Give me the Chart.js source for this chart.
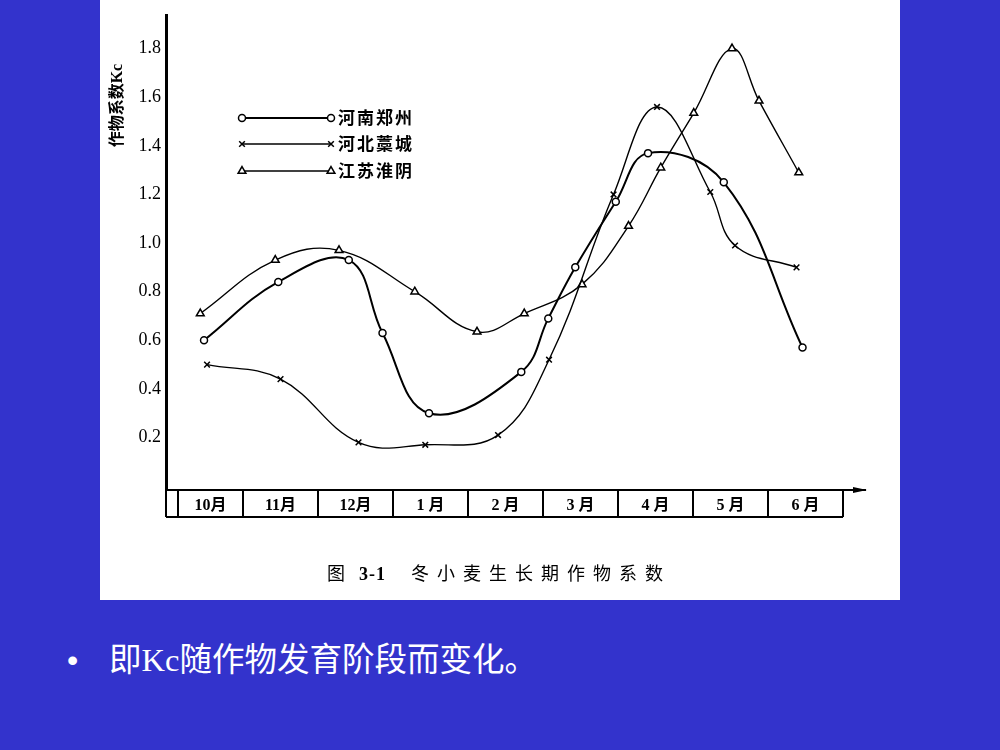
<!DOCTYPE html>
<html>
<head>
<meta charset="utf-8">
<script src="https://cdn.jsdelivr.net/npm/chart.js@4.4.1/dist/chart.umd.min.js"></script>
<style>
  body { margin: 0; width: 1000px; height: 750px; background: #3333cc; position: relative; overflow: hidden; }
  #panel { position: absolute; left: 100px; top: 0; width: 800px; height: 600px; background: #fff; }
  #cv { position: absolute; left: 0; top: 0; }
  .cap { position: absolute; top: 562px; line-height: 24px; white-space: nowrap; color: #000;
         font-size: 18px; font-family: "Liberation Serif", "Noto Sans CJK SC"; }
  #bullet { position: absolute; left: 67px; top: 640px; color: #fff; font: 32px/40px "Liberation Sans"; }
  #note { position: absolute; left: 109px; top: 640px; color: #fff; white-space: nowrap;
          font-size: 32.5px; line-height: 40px; font-family: "Liberation Serif", "Noto Sans CJK SC"; }
</style>
</head>
<body>
<div id="panel">
  <canvas id="cv" width="800" height="600"></canvas>
  <div class="cap" style="left:227px">图</div>
  <div class="cap" style="left:259px; font-weight:bold; letter-spacing:1px">3-1</div>
  <div class="cap" style="left:311px; letter-spacing:8px">冬小麦生长期作物系数</div>
</div>
<div id="bullet">•</div>
<div id="note">即Kc随作物发育阶段而变化。</div>
<script>
// 月份 (x 单位: 自10月初起的月数)
const months = ['10月', '11月', '12月', '1 月', '2 月', '3 月', '4 月', '5 月', '6 月'];
const monthEdges = [0.13, 1, 2, 3, 4, 5, 6, 7, 8, 9];
const yTicks = [0.2, 0.4, 0.6, 0.8, 1.0, 1.2, 1.4, 1.6, 1.8];
const seriesNames = ['河南郑州', '河北藁城', '江苏淮阴'];

const henanX = [0.48, 1.47, 2.41, 2.86, 3.48, 4.71, 5.07, 5.43, 5.97, 6.40, 7.41, 8.46];
const henanY = [0.60, 0.84, 0.93, 0.63, 0.30, 0.47, 0.69, 0.90, 1.17, 1.37, 1.25, 0.57];
const hebeiX = [0.52, 1.50, 2.54, 3.43, 4.40, 5.08, 5.94, 6.52, 7.23, 7.56, 8.38];
const hebeiY = [0.50, 0.44, 0.18, 0.17, 0.21, 0.52, 1.20, 1.56, 1.21, 0.99, 0.90];
const jiangsuX = [0.43, 1.43, 2.28, 3.29, 4.12, 4.75, 5.52, 6.14, 6.57, 7.01, 7.52, 7.88, 8.41];
const jiangsuY = [0.71, 0.93, 0.97, 0.80, 0.635, 0.71, 0.83, 1.07, 1.31, 1.535, 1.80, 1.585, 1.29];

const xMin = -0.027, xMax = 9.293;
const monthCenters = months.map((m, i) => (monthEdges[i] + monthEdges[i + 1]) / 2);

function pts(xs, ys) { return xs.map((x, i) => ({ x: x, y: ys[i] })); }

function makeSet(name, xs, ys, style, radius, width) {
  return {
    label: name,
    data: pts(xs, ys),
    borderColor: '#000',
    borderWidth: width,
    backgroundColor: '#fff',
    pointStyle: style,
    pointRadius: radius,
    pointBorderWidth: 1.5,
    pointBackgroundColor: '#fff',
    pointBorderColor: '#000',
    tension: 0.4
  };
}

// 图内图例和表格底线
const deco = {
  id: 'deco',
  afterDraw(chart) {
    const ctx = chart.ctx;
    const a = chart.chartArea;
    const xs = chart.scales.x;
    const xr = xs.getPixelForValue(monthEdges[monthEdges.length - 1]);
    ctx.save();
    ctx.strokeStyle = '#000';
    ctx.fillStyle = '#000';
    ctx.lineWidth = 2;
    ctx.beginPath();
    ctx.moveTo(a.left, a.bottom + 27);
    ctx.lineTo(xr, a.bottom + 27);
    ctx.stroke();
    ctx.beginPath();
    ctx.moveTo(a.right + 2, a.bottom);
    ctx.lineTo(a.right - 12, a.bottom - 3);
    ctx.lineTo(a.right - 12, a.bottom + 3);
    ctx.closePath();
    ctx.fill();

    const rows = [118, 144, 171];
    chart.data.datasets.forEach((ds, i) => {
      const y = rows[i];
      ctx.strokeStyle = '#000';
      ctx.lineWidth = ds.borderWidth;
      ctx.beginPath();
      ctx.moveTo(142, y);
      ctx.lineTo(231, y);
      ctx.stroke();
      ctx.fillStyle = '#fff';
      ctx.lineWidth = 1.5;
      [142, 231].forEach(px => {
        Chart.helpers.drawPoint(ctx, { pointStyle: ds.pointStyle, radius: ds.pointRadius, rotation: 0, borderWidth: 1.5 }, px, y);
      });
      ctx.fillStyle = '#000';
      ctx.font = 'bold 17px "Noto Sans CJK SC"';
      ctx.letterSpacing = '2px';
      ctx.textBaseline = 'middle';
      ctx.textAlign = 'left';
      ctx.fillText(ds.label, 238, y);
    });
    ctx.restore();
  }
};

new Chart(document.getElementById('cv'), {
  type: 'line',
  data: {
    datasets: [
      makeSet(seriesNames[0], henanX, henanY, 'circle', 3.5, 2),
      makeSet(seriesNames[1], hebeiX, hebeiY, 'crossRot', 4, 1.4),
      makeSet(seriesNames[2], jiangsuX, jiangsuY, 'triangle', 4.5, 1.4)
    ]
  },
  options: {
    responsive: false,
    animation: false,
    devicePixelRatio: 1,
    layout: { padding: { left: 0, right: 35, top: 12, bottom: 80 } },
    plugins: { legend: { display: false }, tooltip: { enabled: false } },
    scales: {
      x: {
        type: 'linear',
        min: xMin,
        max: xMax,
        afterFit(scale) { scale.height = 30; },
        afterBuildTicks(scale) {
          const t = [xMin].concat(monthEdges, monthCenters).sort((p, q) => p - q);
          scale.ticks = t.map(v => ({ value: v }));
        },
        border: { display: true, color: '#000', width: 2 },
        grid: {
          drawOnChartArea: false,
          tickLength: 27,
          lineWidth: 2,
          color: ctx => (ctx.tick && monthCenters.includes(ctx.tick.value)) ? 'rgba(0,0,0,0)' : '#000'
        },
        ticks: {
          autoSkip: false,
          maxRotation: 0,
          padding: -21,
          color: '#000',
          font: { family: '"Liberation Serif", "Noto Sans CJK SC"', size: 16, weight: 'bold' },
          callback: v => {
            const i = monthCenters.indexOf(v);
            return i >= 0 ? months[i] : '';
          }
        }
      },
      y: {
        min: -0.016,
        max: 1.935,
        afterFit(scale) { scale.width = 66; },
        afterBuildTicks(scale) { scale.ticks = yTicks.map(v => ({ value: v })); },
        border: { display: true, color: '#000', width: 3 },
        grid: { drawOnChartArea: false, drawTicks: false },
        ticks: {
          padding: 5,
          color: '#000',
          font: { family: '"Liberation Serif"', size: 18 },
          callback: v => v.toFixed(1)
        },
        title: {
          display: true,
          text: '作物系数Kc\u3000\u3000\u3000',
          align: 'end',
          color: '#000',
          padding: { top: 8, bottom: 0 },
          font: { family: '"Liberation Serif", "Noto Sans CJK SC"', size: 16, weight: 'bold' }
        }
      }
    }
  },
  plugins: [deco]
});
</script>
</body>
</html>
